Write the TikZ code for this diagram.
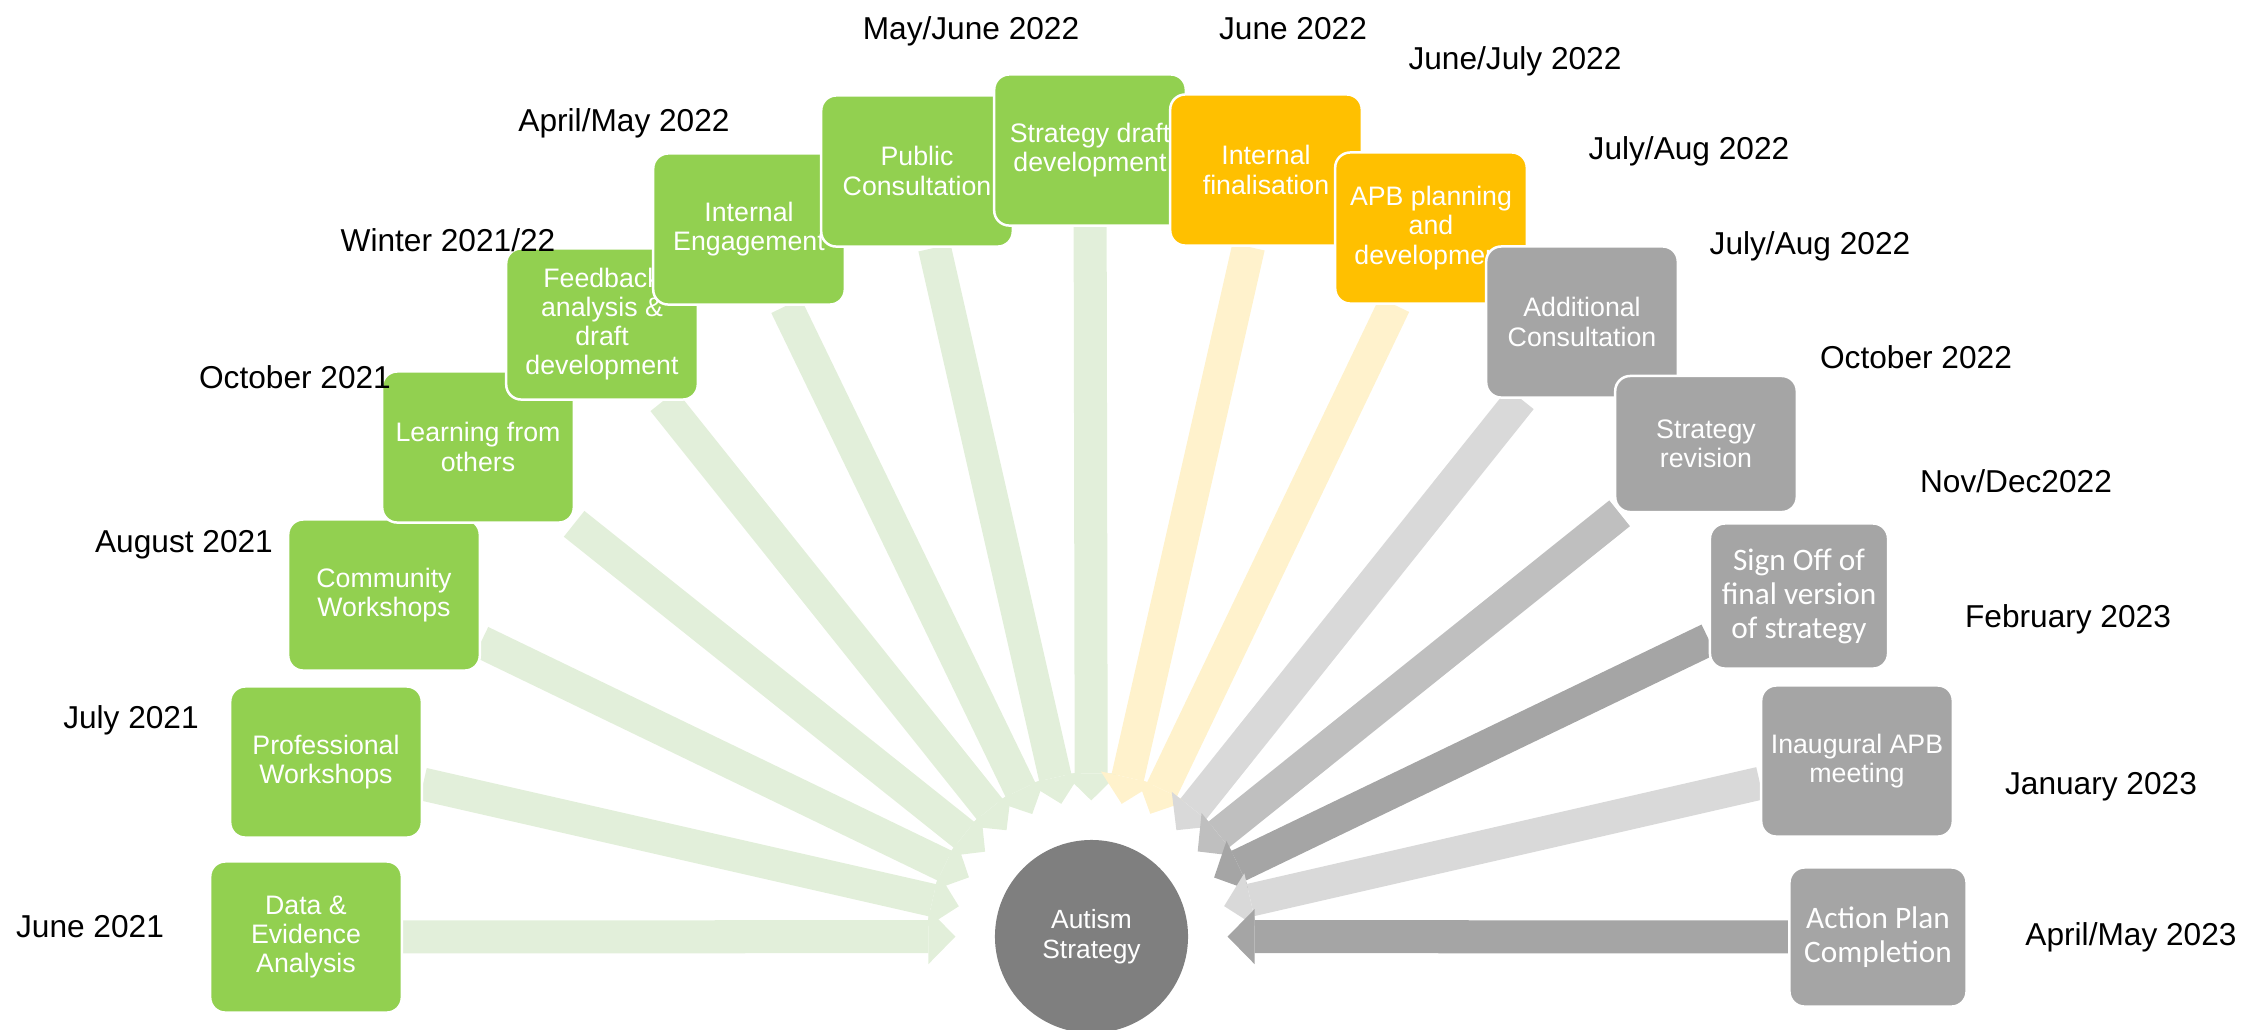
\documentclass[tikz,border=0pt]{standalone}
\usepackage{fontspec}
\setmainfont{Liberation Sans}
\newfontfamily\calibri{Carlito}
\usetikzlibrary{arrows.meta,backgrounds}

\definecolor{stagegreen}{HTML}{92D050}
\definecolor{stageamber}{HTML}{FFC000}
\definecolor{stagegrey}{HTML}{A5A5A5}
\definecolor{hubgrey}{HTML}{7F7F7F}
\definecolor{flowgreen}{HTML}{E2EFDA}
\definecolor{flowamber}{HTML}{FFF2CC}
\definecolor{flowlight}{HTML}{D9D9D9}
\definecolor{flowmid}{HTML}{BFBFBF}
\definecolor{flowdark}{HTML}{A5A5A5}

\tikzset{
  stage/.style={rectangle, rounded corners=0.15cm, draw=white, line width=0.025cm,
    text=white, align=center, inner sep=0pt, minimum width=1.915cm, minimum height=1.51cm,
    font=\fontsize{7.6}{8.3}\selectfont},
  calibritext/.style={font=\calibri\fontsize{8.9}{9.7}\selectfont},
  hub/.style={circle, fill=hubgrey, text=white, align=center, inner sep=0pt, outer sep=0pt,
    minimum size=1.93cm, font=\fontsize{7.5}{8.6}\selectfont},
  when/.style={inner sep=0pt, text height=0.716em, text depth=0pt,
    font=\fontsize{9}{10.8}\selectfont},
  flow/.style={line width=0.33cm, shorten >=0.395cm,
    -{Triangle[width=0.55cm, length=0.27cm, line width=0pt]}}
}

\begin{document}
\begin{tikzpicture}[x=0.01cm, y=-0.01cm]
  \useasboundingbox (0,0) rectangle (2241,1029);

  \node[hub] (hub) at (1091.5,936.5) {Autism\\Strategy};

  \node[stage, fill=stagegreen] (data) at (306,937) {Data \&\\Evidence\\Analysis};
  \node[stage, fill=stagegreen] (prof) at (326,762) {Professional\\Workshops};
  \node[stage, fill=stagegreen] (comm) at (384,595) {Community\\Workshops};
  \node[stage, fill=stagegreen] (learn) at (478,447) {Learning from\\others};
  \node[stage, fill=stagegreen] (feedback) at (602,324) {Feedback\\analysis \&\\draft\\development};
  \node[stage, fill=stagegreen] (engage) at (749,229) {Internal\\Engagement};
  \node[stage, fill=stagegreen] (public) at (917,171) {Public\\Consultation};
  \node[stage, fill=stagegreen] (draft) at (1090,150) {Strategy draft\\development};
  \node[stage, fill=stageamber] (final) at (1266,170) {Internal\\finalisation};
  \node[stage, fill=stageamber] (apb) at (1431,228) {APB planning\\and\\development};
  \node[stage, fill=stagegrey] (extra) at (1582,322) {Additional\\Consultation};
  \node[stage, fill=stagegrey, minimum width=1.815cm, minimum height=1.36cm] (revise) at (1706,444) {Strategy\\revision};
  \node[stage, calibritext, fill=stagegrey, minimum width=1.78cm, minimum height=1.45cm] (signoff) at (1799,596) {Sign Off of\\final version\\of strategy};
  \node[stage, fill=stagegrey] (inaug) at (1857,761) {Inaugural APB\\meeting};
  \node[stage, calibritext, fill=stagegrey, minimum width=1.77cm, minimum height=1.39cm] (action) at (1878,937) {Action Plan\\Completion};

  \begin{scope}[on background layer]
    \foreach \s/\c in {data/flowgreen, prof/flowgreen, comm/flowgreen, learn/flowgreen,
        feedback/flowgreen, engage/flowgreen, public/flowgreen, draft/flowgreen,
        final/flowamber, apb/flowamber, extra/flowlight, revise/flowmid,
        signoff/flowdark, inaug/flowlight, action/flowdark} {
      \draw[flow, draw=\c] (\s) -- (hub);
    }
  \end{scope}

  \node[when] (jun21) at (90,925) {June 2021};
  \node[when] (jul21) at (131,716) {July 2021};
  \node[when] (aug21) at (184,540) {August 2021};
  \node[when] (oct21) at (295,376) {October 2021};
  \node[when] (win21) at (448,239) {Winter 2021/22};
  \node[when] (apr22) at (624,119) {April/May 2022};
  \node[when] (may22) at (971,27) {May/June 2022};
  \node[when] (jun22) at (1293,27) {June 2022};
  \node[when] (jul22) at (1515,57) {June/July 2022};
  \node[when] (aug22a) at (1689,147) {July/Aug 2022};
  \node[when] (aug22b) at (1810,242) {July/Aug 2022};
  \node[when] (oct22) at (1916,356) {October 2022};
  \node[when] (nov22) at (2016,480) {Nov/Dec2022};
  \node[when] (feb23) at (2068,615) {February 2023};
  \node[when] (jan23) at (2101,782) {January 2023};
  \node[when] (apr23) at (2131,933) {April/May 2023};
\end{tikzpicture}
\end{document}
